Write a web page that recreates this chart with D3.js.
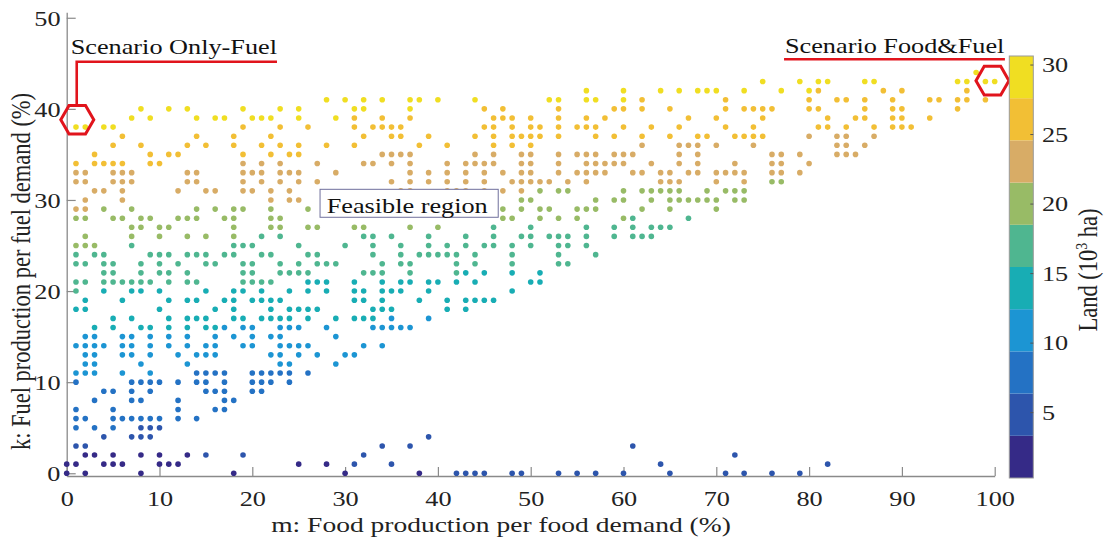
<!DOCTYPE html>
<html>
<head>
<meta charset="utf-8">
<script src="https://cdn.jsdelivr.net/npm/d3@7"></script>
<style>
  body { margin: 0; background: #fff; }
  svg { display: block; }
</style>
</head>
<body>
<svg id="chart" width="1105" height="539"></svg>
<script>
// Feasible (m, k) combinations coloured by land use (10^3 ha)

const xTicks = [0, 10, 20, 30, 40, 50, 60, 70, 80, 90, 100];
const yTicks = [0, 10, 20, 30, 40, 50];
const landTicks = [5, 10, 15, 20, 25, 30];
const landDomain = [0.3, 30.65];
const landColors = ['#352a87', '#2d55ac', '#2472c4', '#1c95d3', '#18adb4',
                    '#4fb690', '#98bb66', '#d8ac66', '#f2bf35', '#f0de22'];

// each row: [k (fuel %), list of m (food %) values that are feasible]
const pointRows = [
  [44, [98]],
  [43, [75, 79, 81, 82, 86, 87, 96, 97, 99, 100]],
  [42, [56, 60, 64, 66, 68, 69, 70, 73, 77, 80, 81, 88, 90, 97]],
  [41, [28, 30, 32, 34, 37, 38, 40, 44, 52, 53, 56, 57, 60, 62, 71, 80, 83, 84, 86, 89, 93, 94, 96, 97, 99]],
  [40, [8, 11, 13, 19, 23, 25, 31, 32, 37, 45, 47, 53, 59, 60, 62, 65, 71, 73, 74, 75, 76, 80, 81, 86, 89, 90, 96]],
  [39, [7, 9, 14, 16, 17, 20, 21, 22, 25, 29, 31, 34, 37, 46, 47, 48, 50, 53, 56, 58, 67, 70, 75, 82, 85, 86, 89, 90, 93]],
  [38, [1, 2, 4, 5, 19, 23, 26, 31, 33, 34, 35, 36, 45, 46, 48, 50, 51, 53, 55, 56, 57, 60, 63, 66, 71, 74, 81, 82, 84, 87, 89, 90, 91]],
  [37, [6, 14, 18, 22, 32, 35, 36, 39, 44, 46, 48, 49, 50, 51, 53, 57, 59, 62, 65, 68, 69, 72, 73, 74, 75, 80, 83, 84, 87]],
  [36, [5, 8, 13, 15, 18, 21, 23, 25, 28, 31, 38, 41, 46, 48, 50, 62, 66, 67, 68, 70, 74, 83, 84, 86]],
  [35, [3, 9, 11, 12, 19, 22, 24, 25, 34, 35, 36, 37, 44, 46, 49, 50, 53, 55, 56, 57, 59, 60, 61, 66, 68, 76, 77, 79, 83, 84, 85]],
  [34, [1, 3, 4, 5, 6, 9, 10, 19, 21, 23, 27, 32, 33, 35, 37, 41, 43, 44, 45, 46, 49, 50, 53, 56, 57, 58, 59, 60, 63, 66, 68, 72, 76, 77, 80]],
  [33, [1, 2, 5, 6, 7, 13, 14, 19, 20, 21, 23, 24, 25, 29, 37, 39, 41, 43, 45, 47, 49, 50, 53, 55, 56, 57, 58, 61, 62, 64, 65, 67, 68, 70, 71, 72, 73, 76, 77, 79]],
  [32, [1, 2, 5, 6, 7, 13, 14, 19, 21, 23, 25, 27, 35, 37, 39, 41, 43, 45, 48, 49, 50, 51, 52, 54, 56, 64, 65, 66, 70, 73, 76, 77]],
  [31, [3, 4, 6, 12, 15, 16, 19, 20, 22, 24, 36, 37, 41, 42, 43, 45, 47, 49, 51, 53, 54, 60, 62, 63, 64, 65, 66, 69, 71, 72, 73]],
  [30, [2, 6, 22, 24, 25, 49, 50, 57, 59, 60, 63, 65, 66, 67, 68, 69, 70, 72, 73]],
  [29, [1, 2, 4, 7, 14, 16, 18, 19, 22, 26, 47, 49, 51, 52, 55, 56, 57, 62, 65, 70]],
  [28, [1, 2, 5, 6, 8, 9, 12, 13, 14, 17, 18, 22, 23, 47, 48, 51, 53, 55, 60, 61, 67]],
  [27, [7, 8, 10, 11, 18, 22, 23, 26, 27, 31, 32, 37, 40, 46, 50, 56, 59, 61, 63, 64, 65]],
  [26, [2, 7, 10, 13, 15, 18, 21, 23, 32, 33, 35, 39, 43, 46, 49, 50, 52, 53, 54, 56, 59, 61, 62, 63]],
  [25, [1, 2, 3, 7, 18, 19, 20, 25, 30, 33, 36, 39, 41, 43, 45, 46, 48, 50, 53, 54, 56]],
  [24, [1, 3, 4, 9, 10, 11, 13, 14, 15, 17, 18, 21, 22, 26, 27, 33, 36, 38, 39, 40, 41, 42, 44, 48, 53, 57]],
  [23, [1, 2, 4, 5, 8, 10, 12, 15, 16, 19, 20, 23, 25, 27, 28, 29, 34, 36, 37, 42, 44, 48, 53, 54]],
  [22, [4, 5, 8, 10, 11, 13, 19, 20, 23, 24, 25, 26, 32, 33, 34, 37, 42, 43, 45, 48, 51]],
  [21, [1, 2, 4, 5, 6, 7, 8, 9, 11, 13, 14, 19, 20, 21, 22, 26, 27, 28, 31, 34, 36, 37, 39, 40, 42, 44, 50, 51]],
  [20, [1, 4, 7, 8, 10, 15, 18, 19, 21, 24, 26, 28, 31, 32, 34, 35, 36, 39, 48]],
  [19, [2, 6, 11, 13, 14, 17, 18, 20, 21, 22, 23, 31, 32, 34, 38, 41, 43, 44, 45, 46]],
  [18, [1, 2, 10, 16, 18, 22, 24, 25, 26, 27, 33, 34, 35, 41, 43]],
  [17, [5, 7, 11, 13, 14, 15, 18, 19, 21, 22, 23, 24, 26, 29, 31, 32, 33, 35, 39]],
  [16, [3, 5, 8, 9, 11, 13, 15, 16, 17, 19, 20, 23, 24, 25, 28, 33, 34, 35, 36, 37]],
  [15, [2, 3, 6, 7, 9, 11, 13, 16, 18, 20, 22, 23, 29]],
  [14, [1, 2, 3, 4, 6, 7, 9, 11, 13, 15, 16, 19, 20, 23, 24, 25, 26, 32, 34]],
  [13, [2, 3, 6, 7, 9, 12, 14, 15, 16, 22, 23, 25, 27, 30, 31]],
  [12, [2, 3, 8, 13, 23, 24, 29]],
  [11, [1, 2, 3, 6, 9, 14, 15, 16, 17, 20, 21, 22, 23, 24, 26]],
  [10, [1, 7, 8, 9, 10, 12, 14, 15, 17, 20, 21, 22, 24]],
  [9, [4, 5, 7, 9, 15, 16, 17, 20, 21]],
  [8, [3, 7, 8, 12, 17, 18]],
  [7, [1, 5, 12, 16, 17]],
  [6, [1, 2, 5, 6, 7, 8, 9, 10, 12, 14]],
  [5, [1, 3, 5, 8, 9, 10]],
  [4, [4, 7, 8, 9, 39]],
  [3, [1, 2, 34, 37, 61]],
  [2, [2, 3, 5, 8, 10, 13, 15, 19, 32, 72]],
  [1, [0, 1, 4, 5, 6, 10, 11, 12, 25, 28, 31, 35, 64, 82]],
  [0, [0, 2, 8, 18, 30, 38, 42, 43, 44, 45, 48, 49, 53, 55, 57, 60, 65, 71, 73, 76, 79]]
];

// land use along each row: [k, land from m=0, (m where it changes, new land)...]
const rowLand = [
  [44, 29], [43, 29], [42, 29, 81, 26], [41, 29, 61, 26], [40, 29, 41, 26],
  [39, 29, 31, 26], [38, 29, 6, 26], [37, 26, 76, 23], [36, 26, 51, 23],
  [35, 26, 26, 23], [34, 26, 11, 23], [33, 23], [32, 23, 76, 20],
  [31, 23, 51, 20], [30, 23, 26, 20], [29, 23, 3, 20], [28, 20, 61, 17],
  [27, 20, 41, 17], [26, 20, 21, 17], [25, 20, 5, 17], [24, 17], [23, 17],
  [22, 17, 43, 14], [21, 17, 23, 14], [20, 17, 3, 14], [19, 14], [18, 14],
  [17, 14, 34, 11], [16, 14, 17, 11], [15, 11], [14, 11], [13, 11], [12, 11],
  [11, 11, 11, 8], [10, 8], [9, 8], [8, 8], [7, 8], [6, 8], [5, 8, 6, 5],
  [4, 5], [3, 5], [2, 2, 14, 5], [1, 2, 29, 5], [0, 2, 40, 5]
];

// highlighted scenarios (m, k) and their labels
const scenarioNames = ['Scenario Only-Fuel', 'Scenario Food&Fuel'];
const scenarioM = [1.14, 99.76];
const scenarioK = [38.8, 43.1];
const labelM = [0.43, 77.4];
const labelK = [46.0, 46.1];
const leaderLines = [
  [[1.08, 40.4], [1.08, 45.18], [22.66, 45.18]],
  [[77.3, 45.44], [101.1, 45.44]]
];

const FONT = '"Liberation Serif", "Times New Roman", serif';
const SX = 1.25;          // glyphs in the figure are drawn wide
const RED = '#e1141c';
const AXIS_GREY = '#8a8a8a';

const svg = d3.select('#chart');

const x = d3.scaleLinear().domain([0, 100]).range([66.7, 994.7]);
const y = d3.scaleLinear().domain([-0.3, 50.6]).range([476, 12.3]);
const cbY = d3.scaleLinear().domain(landDomain).range([478, 56]);
const color = d3.scaleQuantize().domain(landDomain).range(landColors);

// build point list
const points = [];
pointRows.forEach(([k, ms]) => {
    const seg = rowLand.find(r => r[0] === k);
    ms.forEach(m => {
        let land = seg[1];
        for (let i = 2; i < seg.length; i += 2) if (m >= seg[i]) land = seg[i + 1];
        points.push({ m, k, land });
    });
});

// axes
const xAxis = svg.append('g')
    .attr('transform', `translate(0,${y.range()[0]})`)
    .call(d3.axisBottom(x).tickValues(xTicks).tickSizeInner(-9).tickSizeOuter(0));
const yAxis = svg.append('g')
    .attr('transform', `translate(${x(0)},0)`)
    .call(d3.axisLeft(y).tickValues(yTicks).tickSizeInner(-9).tickSizeOuter(0));

[xAxis, yAxis].forEach(g => {
    g.select('.domain').attr('stroke', AXIS_GREY).attr('stroke-width', 1.3);
    g.selectAll('.tick line').attr('stroke', AXIS_GREY).attr('stroke-width', 1.2);
    g.selectAll('.tick text')
        .attr('font-family', FONT).attr('font-size', 21).attr('fill', '#222');
});
xAxis.selectAll('.tick text')
    .attr('y', null).attr('dy', null)
    .attr('transform', `translate(0,30) scale(${SX},1)`);
yAxis.selectAll('.tick text')
    .attr('x', null).attr('dy', '0.35em')
    .attr('transform', `translate(-6.2,0) scale(${SX},1)`);

// axis titles
svg.append('text')
    .attr('transform', `translate(501,532) scale(${SX},1)`)
    .attr('text-anchor', 'middle')
    .attr('font-family', FONT).attr('font-size', 22).attr('fill', '#222')
    .text('m: Food production per food demand (%)');

svg.append('text')
    .attr('transform', `translate(30,271.5) rotate(-90) scale(1,${SX})`)
    .attr('text-anchor', 'middle')
    .attr('font-family', FONT).attr('font-size', 22.5).attr('fill', '#222')
    .text('k: Fuel production per fuel demand (%)');

// scatter points
svg.append('g').selectAll('circle')
    .data(points)
    .join('circle')
    .attr('cx', d => x(d.m))
    .attr('cy', d => y(d.k))
    .attr('r', 2.8)
    .attr('fill', d => color(d.land));

// "Feasible region" box
const fr = svg.append('g');
fr.append('rect')
    .attr('x', x(27.3)).attr('y', y(31.17))
    .attr('width', x(46.5) - x(27.3)).attr('height', y(28.1) - y(31.17))
    .attr('fill', '#fff').attr('stroke', '#6f6f9c').attr('stroke-width', 1);
fr.append('text')
    .attr('transform', `translate(${x(28.01)},${y(28.6)}) scale(${SX},1)`)
    .attr('font-family', FONT).attr('font-size', 21).attr('fill', '#111')
    .text('Feasible region');

// scenario markers, leader lines, labels
const hex = r => d3.range(6).map(i => {
    const a = Math.PI / 3 * i;
    return [r * Math.cos(a), r * Math.sin(a)];
});
const ann = svg.append('g');
leaderLines.forEach(pts => {
    ann.append('path')
        .attr('d', d3.line().x(p => x(p[0])).y(p => y(p[1]))(pts))
        .attr('fill', 'none').attr('stroke', RED).attr('stroke-width', 2.6);
});
scenarioNames.forEach((name, i) => {
    ann.append('polygon')
        .attr('points', hex(16.5).map(p => [x(scenarioM[i]) + p[0], y(scenarioK[i]) + p[1]].join(',')).join(' '))
        .attr('fill', 'none').attr('stroke', RED).attr('stroke-width', 3);
    ann.append('text')
        .attr('transform', `translate(${x(labelM[i])},${y(labelK[i])}) scale(${SX},1)`)
        .attr('font-family', FONT).attr('font-size', 21).attr('fill', '#111')
        .text(name);
});

// colorbar
const cbX = 1009.3, cbW = 24;
const step = (landDomain[1] - landDomain[0]) / landColors.length;
const cb = svg.append('g');
cb.selectAll('rect.band')
    .data(landColors)
    .join('rect')
    .attr('class', 'band')
    .attr('x', cbX)
    .attr('y', (c, i) => cbY(landDomain[0] + (i + 1) * step))
    .attr('width', cbW)
    .attr('height', (c, i) => cbY(landDomain[0] + i * step) - cbY(landDomain[0] + (i + 1) * step))
    .attr('fill', c => c);
cb.append('rect')
    .attr('x', cbX).attr('y', cbY(landDomain[1]))
    .attr('width', cbW).attr('height', cbY(landDomain[0]) - cbY(landDomain[1]))
    .attr('fill', 'none').attr('stroke', '#9a9a9a').attr('stroke-width', 1);
cb.selectAll('line.tk')
    .data(landTicks)
    .join('line')
    .attr('class', 'tk')
    .attr('x1', cbX + cbW - 3).attr('x2', cbX + cbW)
    .attr('y1', d => cbY(d)).attr('y2', d => cbY(d))
    .attr('stroke', '#555').attr('stroke-width', 1);
cb.selectAll('text.tl')
    .data(landTicks)
    .join('text')
    .attr('class', 'tl')
    .attr('transform', d => `translate(1042,${cbY(d)}) scale(${SX},1)`)
    .attr('dy', '0.35em')
    .attr('font-family', FONT).attr('font-size', 21).attr('fill', '#222')
    .text(d => d);

const cbLabel = svg.append('text')
    .attr('transform', `translate(1097,270) rotate(-90) scale(1,${SX})`)
    .attr('text-anchor', 'middle')
    .attr('font-family', FONT).attr('font-size', 22.5).attr('fill', '#222');
cbLabel.append('tspan').text('Land (10');
cbLabel.append('tspan').attr('dy', -8).attr('font-size', 14).text('3');
cbLabel.append('tspan').attr('dy', 8).text(' ha)');
</script>
</body>
</html>
